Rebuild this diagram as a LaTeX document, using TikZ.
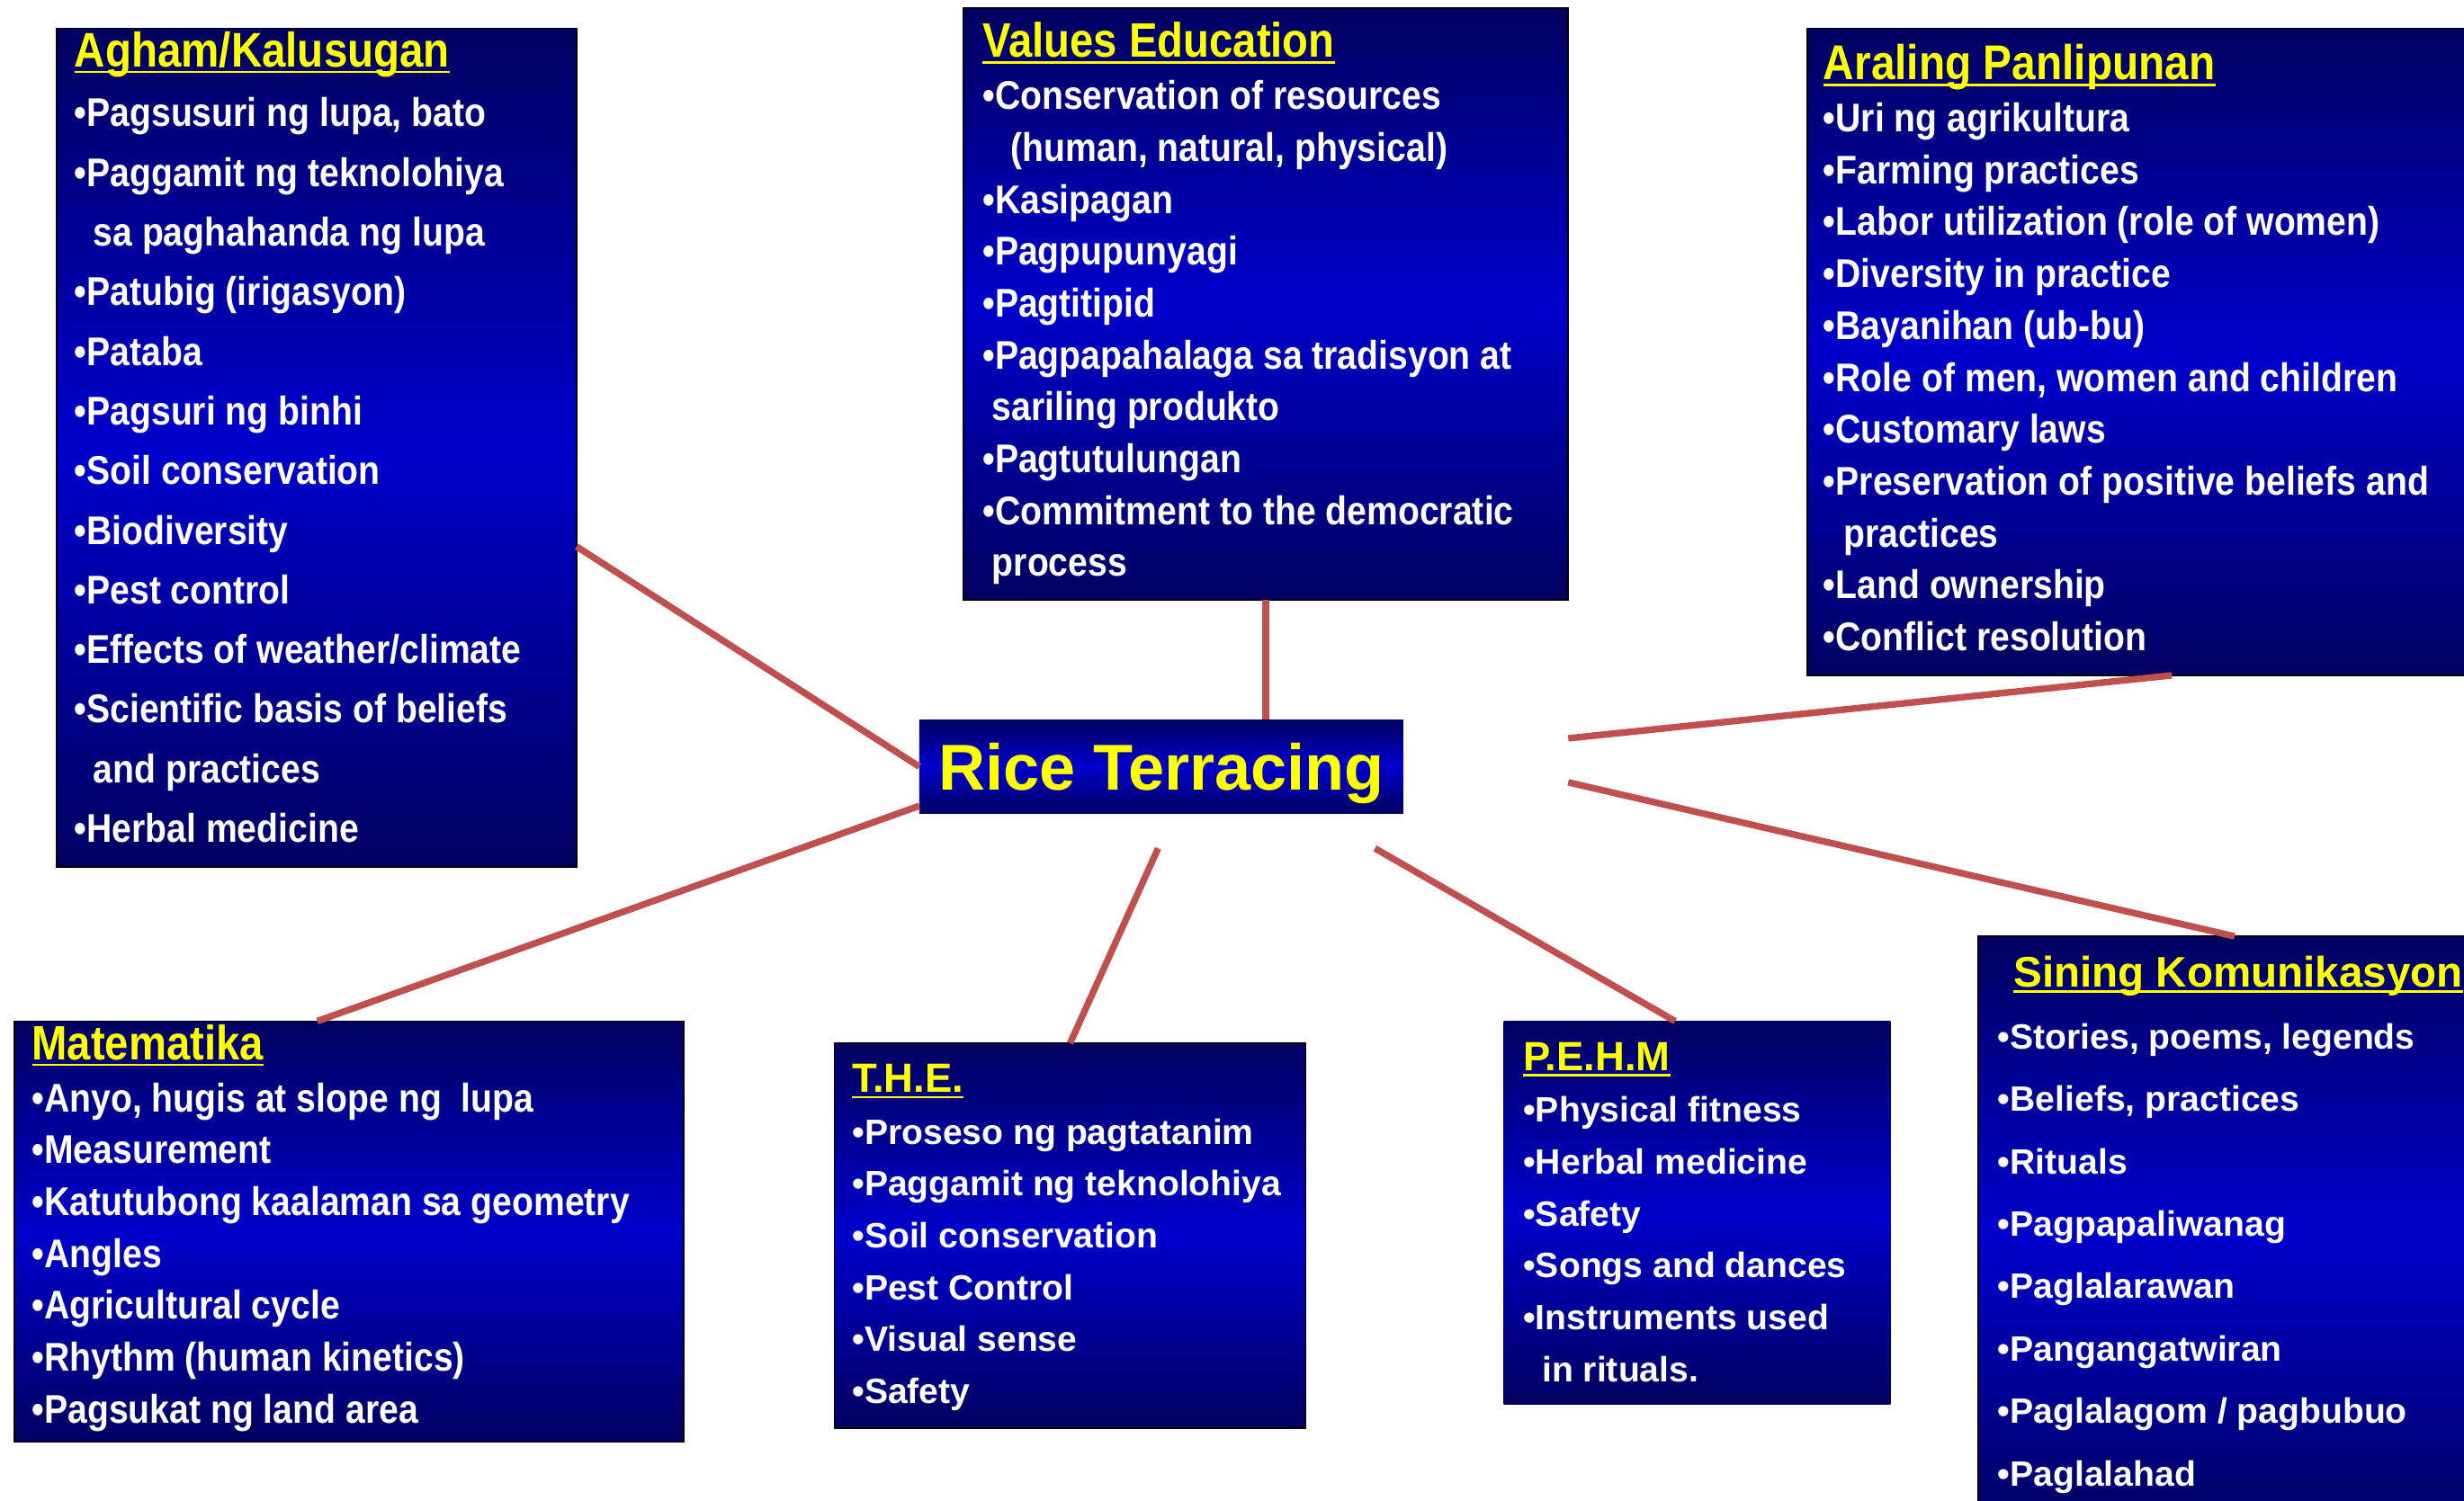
\documentclass[tikz,border=0pt]{standalone}
\usepackage{fontspec}
\setmainfont{Liberation Sans}
\newfontfamily\narrowfont[FakeStretch=0.88]{Liberation Sans}
\usetikzlibrary{calc}

\definecolor{navydark}{HTML}{000060}
\definecolor{navyblue}{HTML}{0000CC}
\definecolor{headyellow}{HTML}{FFFF00}
\definecolor{linkred}{HTML}{C0504D}

% underlined yellow heading: #1 = size, #2 = text
\newcommand{\heading}[2]{{\color{headyellow}\fontsize{#1}{#1}\selectfont\setbox0\hbox{#2}\rlap{\rule[-2.2pt]{\wd0}{0.8pt}}\box0}}

\begin{document}
\begin{tikzpicture}[x=0.02cm, y=-0.02cm,
    panel/.style={rectangle, draw=black, line width=0.6pt, anchor=north west, inner sep=0pt, outer sep=0pt,
                  top color=navydark, bottom color=navydark, middle color=navyblue},
    items/.style={anchor=north west, inner sep=0pt, align=left, text=white},
    link/.style={draw=linkred, line width=2.4pt}]

    \useasboundingbox (0,0) rectangle (1568,955);

    %% boxes
    % Nodes
    \node[panel, minimum width=6.62cm, minimum height=10.68cm] (agham) at (36,18) {};
    \node[panel, minimum width=7.70cm, minimum height=7.54cm] (values) at (613,5) {};
    \node[panel, minimum width=9.28cm, minimum height=8.24cm] (araling) at (1150,18) {};
    \node[panel, minimum width=8.52cm, minimum height=5.36cm] (mate) at (9,650) {};
    \node[panel, minimum width=6.00cm, minimum height=4.90cm] (the) at (531,664) {};
    \node[panel, draw=none, minimum width=4.92cm, minimum height=4.88cm] (pehm) at (957,650) {};
    \node[panel, minimum width=6.52cm, minimum height=7.58cm] (sining) at (1259,596) {};
    \node[panel, draw=none, minimum width=6.16cm, minimum height=1.20cm, text=headyellow, text depth=0pt,
          font=\bfseries\fontsize{23.5}{27}\selectfont] (rice) at (585,458) {Rice Terracing};

    %% texts
    \node[items, font=\narrowfont\bfseries\fontsize{14.5}{21.6}\selectfont] (aghamtxt) at ($(agham.north west)+(11,2)$)
        {\heading{17.6}{Agham/Kalusugan}\\
         •Pagsusuri ng lupa, bato\\
         •Paggamit ng teknolohiya\\
         \hspace*{0.24cm}sa paghahanda ng lupa\\
         •Patubig (irigasyon)\\
         •Pataba\\
         •Pagsuri ng binhi\\
         •Soil conservation\\
         •Biodiversity\\
         •Pest control\\
         •Effects of weather/climate\\
         •Scientific basis of beliefs\\
         \hspace*{0.24cm}and practices\\
         •Herbal medicine};

    \node[items, font=\narrowfont\bfseries\fontsize{14.5}{18.8}\selectfont] (valuestxt) at ($(values.north west)+(12,9)$)
        {\heading{17.5}{Values Education}\\
         •Conservation of resources\\
         \hspace*{0.36cm}(human, natural, physical)\\
         •Kasipagan\\
         •Pagpupunyagi\\
         •Pagtitipid\\
         •Pagpapahalaga sa tradisyon at\\
         \hspace*{0.12cm}sariling produkto\\
         •Pagtutulungan\\
         •Commitment to the democratic\\
         \hspace*{0.12cm}process};

    \node[items, font=\narrowfont\bfseries\fontsize{14.5}{18.8}\selectfont] (aralingtxt) at ($(araling.north west)+(10,10)$)
        {\heading{17.7}{Araling Panlipunan}\\
         •Uri ng agrikultura\\
         •Farming practices\\
         •Labor utilization (role of women)\\
         •Diversity in practice\\
         •Bayanihan (ub-bu)\\
         •Role of men, women and children\\
         •Customary laws\\
         •Preservation of positive beliefs and\\
         \hspace*{0.26cm}practices\\
         •Land ownership\\
         •Conflict resolution};

    \node[items, font=\narrowfont\bfseries\fontsize{14.5}{18.8}\selectfont] (matetxt) at ($(mate.north west)+(11,2)$)
        {\heading{17.5}{Matematika}\\
         •Anyo, hugis at slope ng\ \ lupa\\
         •Measurement\\
         •Katutubong kaalaman sa geometry\\
         •Angles\\
         •Agricultural cycle\\
         •Rhythm (human kinetics)\\
         •Pagsukat ng land area};

    \node[items, font=\bfseries\fontsize{12.75}{18.8}\selectfont] (thetxt) at ($(the.north west)+(11,13)$)
        {\heading{14.8}{T.H.E.}\\
         •Proseso ng pagtatanim\\
         •Paggamit ng teknolohiya\\
         •Soil conservation\\
         •Pest Control\\
         •Visual sense\\
         •Safety};

    \node[items, font=\bfseries\fontsize{12.75}{18.8}\selectfont] (pehmtxt) at ($(pehm.north west)+(12,13)$)
        {\heading{14.8}{P.E.H.M}\\
         •Physical fitness\\
         •Herbal medicine\\
         •Safety\\
         •Songs and dances\\
         •Instruments used\\
         \hspace*{0.24cm}in rituals.};

    \node[items, font=\bfseries\fontsize{12.75}{22.6}\selectfont] (siningtxt) at ($(sining.north west)+(12,12)$)
        {\hspace*{0.2cm}\heading{15.5}{Sining Komunikasyon}\\
         •Stories, poems, legends\\
         •Beliefs, practices\\
         •Rituals\\
         •Pagpapaliwanag\\
         •Paglalarawan\\
         •Pangangatwiran\\
         •Paglalagom / pagbubuo\\
         •Paglalahad};

    %% free ends near the centre
    \coordinate (aralingend) at ($(rice.east)+(105,-18)$);
    \coordinate (siningend) at ($(rice.east)+(105,10)$);
    \coordinate (pehmend) at ($(rice.south east)+(-18,22)$);
    \coordinate (theend) at ($(rice.south)+(-2,22)$);

    % Connections
    \draw[link] ($(agham.east)+(0,63)$) -- (rice.west);
    \draw[link] (values.south) -- (values.south |- rice.north);
    \draw[link] (araling.south) -- (aralingend);
    \draw[link] (sining.north) -- (siningend);
    \draw[link] ($(pehm.north)+(-14,0)$) -- (pehmend);
    \draw[link] (the.north) -- (theend);
    \draw[link] ($(mate.north)+(-20,0)$) -- ($(rice.south west)+(0,-5)$);
\end{tikzpicture}
\end{document}
